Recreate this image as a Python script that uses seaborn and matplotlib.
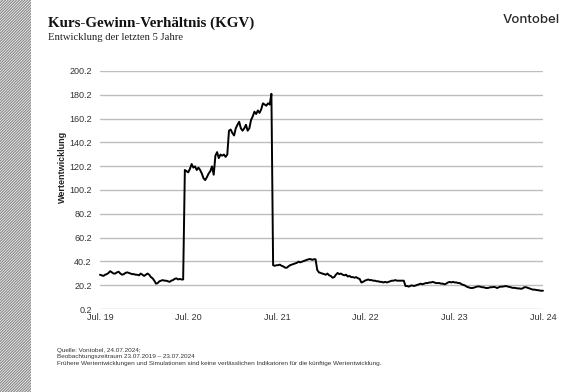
import pandas as pd
import matplotlib.pyplot as plt
import matplotlib.patches as mpatches
import seaborn as sns

sns.set_style("white")
plt.rcParams['font.family'] = ['Liberation Sans', 'DejaVu Sans']
plt.rcParams['hatch.linewidth'] = 0.9

# weekly KGV values, 23.07.2019 - 23.07.2024
kgv_2019_20 = [29, 28.5, 28, 29, 29.5, 30.5, 32, 31, 30, 30,
               31, 31.5, 30, 29, 29.5, 30.5, 31, 30.5, 30, 29.5,
               29.5, 29, 29, 28.5, 30, 29, 28, 29, 30, 29,
               27, 26, 24, 21.5, 22, 23.5, 24, 24.5, 24, 24,
               23.5, 23, 24, 24.5, 25.5, 26, 25, 25.5, 25, 25]
kgv_2020_21 = [117, 116, 115, 118, 122, 119, 120, 117, 119, 117,
               114, 110, 108.5, 111, 114, 116, 120, 113, 129, 132,
               127, 130, 129, 130, 128, 130, 150, 151, 148, 146,
               152, 155, 157.5, 152, 150, 152, 155, 150, 152, 159,
               162, 166, 164, 167, 165, 168, 173, 172, 171, 173,
               172, 181]
kgv_2021_22 = [37, 36.5, 37, 37, 37.5, 36.5, 36, 35, 34.8, 36,
               37, 37.5, 38, 38.5, 39, 40, 39.4, 40, 40.5, 41,
               41.6, 42, 42.2, 41.5, 42, 42, 33, 31, 30.5, 30,
               29.5, 29, 30, 28.5, 28, 26.5, 27, 29, 30.5, 29.5,
               30, 29, 28.5, 29, 27.5, 28, 27, 27, 26.5, 27,
               26, 25.5]
kgv_2022_24 = [22.5, 23, 24, 24.5, 25, 24.5, 24.5, 24, 24, 23.5,
               23.5, 23, 23, 22.5, 23, 22.5, 23, 23.5, 24, 24,
               24.5, 24, 24, 24, 24, 24, 19.5, 19.5, 19, 19.8,
               20, 19.5, 20, 20.5, 21, 21.5, 21, 21.5, 22, 22,
               22.5, 22.5, 23, 22.5, 22, 22, 22, 21.5, 21.5, 21,
               21.5, 22.5, 23, 22.5, 23, 22.5, 22.5, 22, 22, 21,
               20.5, 20, 19, 18.5, 18, 17.8, 18, 18.5, 19, 19.2,
               19, 18.5, 18.5, 18, 17.8, 18, 18.5, 18.5, 18.8, 18.5,
               17.8, 18.5, 19, 19, 19.2, 19.5, 19.2, 18.8, 18.5, 18,
               18, 17.8, 17.5, 17.5, 17.2, 17.5, 18.5, 18.5, 18, 17.5,
               17, 16.5, 16.5, 16.2, 16, 15.8, 15.5, 15.6]
kgv = kgv_2019_20 + kgv_2020_21 + kgv_2021_22 + kgv_2022_24
dates = pd.date_range("2019-07-23", periods=len(kgv), freq="7D")

y_ticks = [0.2, 20.2, 40.2, 60.2, 80.2, 100.2, 120.2, 140.2, 160.2, 180.2, 200.2]
x_ticks = pd.to_datetime(["2019-07-23", "2020-07-23", "2021-07-23",
                          "2022-07-23", "2023-07-23", "2024-07-23"])
x_labels = ["Jul. 19", "Jul. 20", "Jul. 21", "Jul. 22", "Jul. 23", "Jul. 24"]

df = pd.DataFrame({"Datum": dates, "KGV": kgv})

fig = plt.figure(figsize=(5.73, 3.92), dpi=100)
ax = fig.add_axes([0.1745, 0.2117, 0.7731, 0.6073])

sns.lineplot(data=df, x="Datum", y="KGV", color="black", linewidth=1.4, ax=ax)
ax.lines[0].set_clip_on(False)

ax.set_xlim(x_ticks[0], x_ticks[-1])
ax.set_ylim(0.2, 200.2)
ax.set_yticks(y_ticks)
ax.set_yticklabels([f"{v:.1f}" for v in y_ticks])
ax.set_xticks(x_ticks)
ax.set_xticklabels(x_labels)
ax.yaxis.grid(True, color="#bdbdbd", linewidth=1.0)
ax.set_axisbelow(True)
for s in ax.spines.values():
    s.set_visible(False)
ax.tick_params(axis="both", length=0, labelsize=6.5, labelcolor="#333333")
ax.tick_params(axis="y", pad=6)
ax.tick_params(axis="x", pad=3)
ax.set_xlabel("")
ax.set_ylabel("")

fig.text(62 / 573, 1 - 167 / 392, "Wertentwicklung", rotation=90, fontsize=6.5,
         fontweight="bold", color="#222222", ha="center", va="center")

# titles
fig.text(48 / 573, 1 - 23 / 392, "Kurs-Gewinn-Verhältnis (KGV)", family="Liberation Serif",
         fontsize=10.8, fontweight="bold", color="#111111", va="center")
fig.text(48 / 573, 1 - 37 / 392, "Entwicklung der letzten 5 Jahre", family="Liberation Serif",
         fontsize=7.7, color="#222222", va="center")
fig.text(560 / 573, 1 - 20 / 392, "Vontobel", fontsize=9.5, fontweight="medium",
         color="#2a2a2a", ha="right", va="center", family="Inter")

# footnote
foot = ("Quelle: Vontobel, 24.07.2024;\n"
        "Beobachtungszeitraum 23.07.2019 – 23.07.2024\n"
        "Frühere Wertentwicklungen und Simulationen sind keine verlässlichen Indikatoren für die künftige Wertentwicklung.")
fig.text(57 / 573, 1 - 348 / 392, foot, fontsize=4.6, color="#333333", va="top",
         linespacing=1.35)

# hatched strip on the left edge
fig.patches.append(mpatches.Rectangle((0, 0), 31 / 573, 1, transform=fig.transFigure,
                                      facecolor="white", edgecolor="#8a8a8a",
                                      hatch="/" * 12, linewidth=0))

fig.savefig("out.png", dpi=100)
